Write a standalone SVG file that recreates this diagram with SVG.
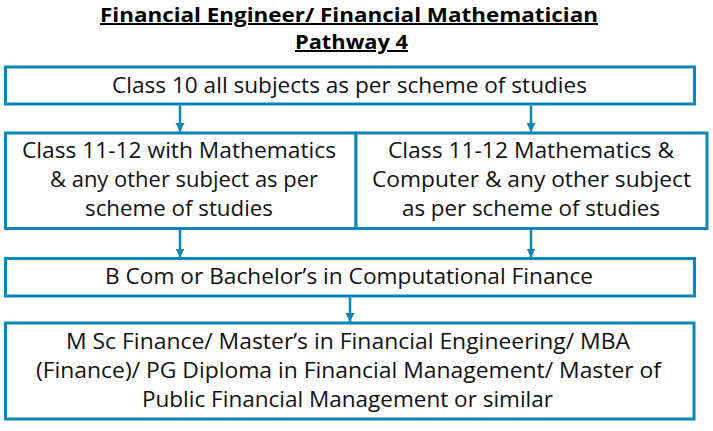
<svg xmlns="http://www.w3.org/2000/svg" width="713" height="431" viewBox="0 0 713 431">
<style>
.box{fill:#ffffff;stroke:#0c86b6;stroke-width:3}
.t{font-family:"Open Sans","Noto Sans","DejaVu Sans",sans-serif;font-size:22px;fill:#111111}
.title{font-family:"Open Sans","Noto Sans","DejaVu Sans",sans-serif;font-size:20px;font-weight:bold;fill:#000000;text-decoration:underline}
.c{stroke:#0c86b6;stroke-width:2.5;fill:none}
</style>
<defs>
<marker id="ah" markerUnits="userSpaceOnUse" markerWidth="10" markerHeight="10" refX="9" refY="5" orient="auto">
<path d="M0,0.5 L9,5 L0,9.5 z" fill="#0c86b6"/>
</marker>
</defs>
<rect width="713" height="431" fill="#ffffff"/>
<g id="title">
<text class="title" x="100" y="22" textLength="498" lengthAdjust="spacingAndGlyphs">Financial Engineer/ Financial Mathematician</text>
<text class="title" x="295" y="49" textLength="113" lengthAdjust="spacingAndGlyphs">Pathway 4</text>
</g>
<g id="connectors">
<line class="c" x1="180" y1="105.5" x2="180" y2="132" marker-end="url(#ah)"/>
<line class="c" x1="531" y1="105.5" x2="531" y2="132" marker-end="url(#ah)"/>
<line class="c" x1="180" y1="230" x2="180" y2="257.5" marker-end="url(#ah)"/>
<line class="c" x1="531" y1="230" x2="531" y2="257.5" marker-end="url(#ah)"/>
<line class="c" x1="350" y1="297.5" x2="350" y2="322" marker-end="url(#ah)"/>
</g>
<g id="class10">
<rect class="box" x="5.5" y="67" width="689" height="37"/>
<text class="t" x="112" y="92.5" textLength="475" lengthAdjust="spacingAndGlyphs">Class 10 all subjects as per scheme of studies</text>
</g>
<g id="class11-math">
<rect class="box" x="5.5" y="133" width="350.5" height="95.5"/>
<text class="t" x="22" y="158" textLength="314" lengthAdjust="spacingAndGlyphs">Class 11-12 with Mathematics</text>
<text class="t" x="50" y="187" textLength="268" lengthAdjust="spacingAndGlyphs">&amp; any other subject as per</text>
<text class="t" x="85" y="215.5" textLength="188" lengthAdjust="spacingAndGlyphs">scheme of studies</text>
</g>
<g id="class11-math-cs">
<rect class="box" x="356" y="133" width="351" height="95.5"/>
<text class="t" x="388" y="158" textLength="286" lengthAdjust="spacingAndGlyphs">Class 11-12 Mathematics &amp;</text>
<text class="t" x="372" y="187" textLength="319" lengthAdjust="spacingAndGlyphs">Computer &amp; any other subject</text>
<text class="t" x="402" y="215.5" textLength="258" lengthAdjust="spacingAndGlyphs">as per scheme of studies</text>
</g>
<g id="bachelor">
<rect class="box" x="5.5" y="258.5" width="689" height="37.5"/>
<text class="t" x="105" y="284" textLength="488" lengthAdjust="spacingAndGlyphs">B Com or Bachelor’s in Computational Finance</text>
</g>
<g id="master">
<rect class="box" x="5.5" y="323" width="688.5" height="96"/>
<text class="t" x="66" y="349" textLength="564" lengthAdjust="spacingAndGlyphs">M Sc Finance/ Master’s in Financial Engineering/ MBA</text>
<text class="t" x="36" y="378" textLength="625" lengthAdjust="spacingAndGlyphs">(Finance)/ PG Diploma in Financial Management/ Master of</text>
<text class="t" x="142" y="407" textLength="411" lengthAdjust="spacingAndGlyphs">Public Financial Management or similar</text>
</g>
</svg>
